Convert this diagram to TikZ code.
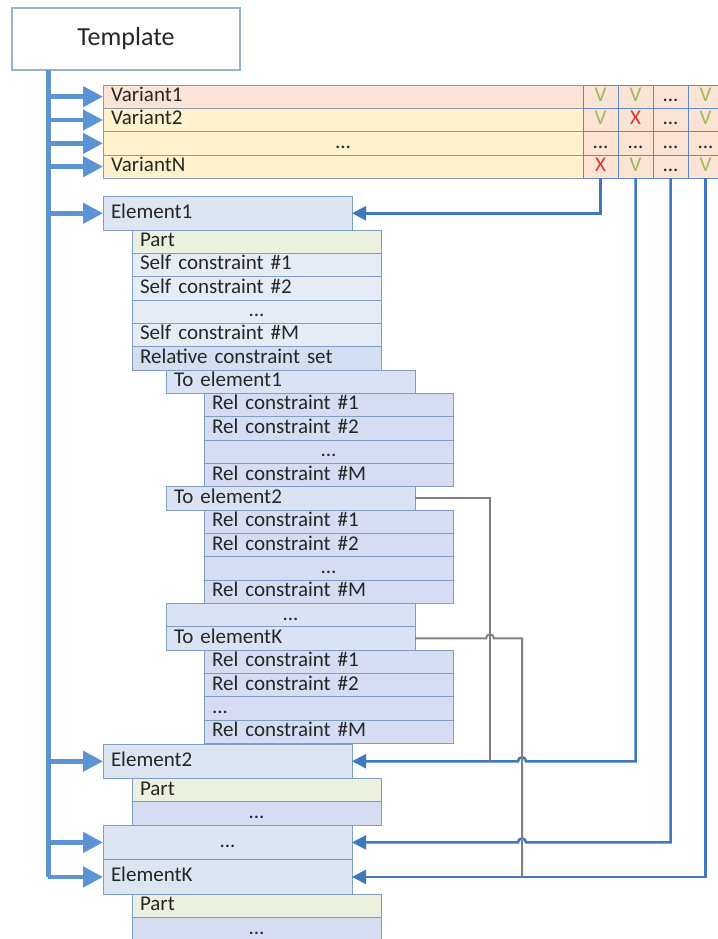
\documentclass[tikz,border=0pt]{standalone}
\usepackage{fontspec}
\setmainfont{Carlito}
\usetikzlibrary{arrows.meta}
\definecolor{txt}{HTML}{262626}
\definecolor{tmplline}{HTML}{95B3D7}
\definecolor{elfill}{HTML}{DCE6F2}
\definecolor{elline}{HTML}{809DC4}
\definecolor{partfill}{HTML}{EBF1DE}
\definecolor{selffill}{HTML}{E6ECF6}
\definecolor{relsetfill}{HTML}{D3DEF0}
\definecolor{tofill}{HTML}{DAE3F3}
\definecolor{relfill}{HTML}{D6DCF1}
\definecolor{varpink}{HTML}{FBE4D6}
\definecolor{varyel}{HTML}{FFF2CC}
\definecolor{cellline}{HTML}{5F8AC4}
\definecolor{varline}{HTML}{8A9BB0}
\definecolor{vgreen}{HTML}{9BBB59}
\definecolor{xred}{HTML}{E0342C}
\definecolor{fatblue}{HTML}{5B93D3}
\definecolor{linkblue}{HTML}{3F78BD}
\definecolor{greyline}{HTML}{7F7F7F}
\begin{document}
\begin{tikzpicture}[x=1pt,y=-1pt,
  every node/.style={font=\fontsize{21}{24}\selectfont, text=txt},
  rowbox/.style={draw=elline, line width=0.9pt, anchor=north west, outer sep=0pt,
    minimum width=249pt, text width=233pt, minimum height=23.33pt,
    inner xsep=8pt, inner ysep=0pt, align=left, text height=14pt, text depth=4pt},
  elbox/.style={rowbox, fill=elfill, minimum height=34.5pt},
  varrow/.style={rowbox, draw=varline, minimum width=480pt, text width=464pt},
  cell/.style={draw=cellline, line width=0.9pt, fill=varpink, anchor=north west, outer sep=0pt,
    minimum width=35pt, minimum height=23.33pt, inner sep=0pt, text height=14pt, text depth=4pt},
  fat/.style={draw=fatblue, line width=4.5pt, -{Triangle[length=20pt,width=20pt]}},
  link/.style={draw=linkblue, line width=2.5pt, -{Triangle[length=14pt,width=14pt]}},
  gline/.style={draw=greyline, line width=2pt},
  okmark/.style={text=vgreen},
  nomark/.style={text=xred}]
\useasboundingbox (0,0) rectangle (717,939);

% Template
\node[draw=tmplline, line width=1.2pt, fill=white, anchor=north west, outer sep=0pt,
  minimum width=228pt, minimum height=62pt, inner sep=0pt,
  font=\fontsize{26}{30}\selectfont] (tmpl) at (12,8) {Template};

% Variants
\node[varrow, fill=varpink] (v1) at (103,85) {Variant1};
\node[varrow, fill=varyel] (v2) at (103,108.33) {Variant2};
\node[varrow, fill=varyel, align=center] (v3) at (103,131.67) {...};
\node[varrow, fill=varyel] (v4) at (103,155) {VariantN};

\node[cell, okmark] (c11) at (583,85) {V};
\node[cell, okmark] (c12) at (618,85) {V};
\node[cell] (c13) at (653,85) {...};
\node[cell, okmark] (c14) at (688,85) {V};
\node[cell, okmark] (c21) at (583,108.33) {V};
\node[cell, nomark] (c22) at (618,108.33) {X};
\node[cell] (c23) at (653,108.33) {...};
\node[cell, okmark] (c24) at (688,108.33) {V};
\node[cell] (c31) at (583,131.67) {...};
\node[cell] (c32) at (618,131.67) {...};
\node[cell] (c33) at (653,131.67) {...};
\node[cell] (c34) at (688,131.67) {...};
\node[cell, nomark] (c41) at (583,155) {X};
\node[cell, okmark] (c42) at (618,155) {V};
\node[cell] (c43) at (653,155) {...};
\node[cell, okmark] (c44) at (688,155) {V};

% Element1
\node[elbox] (el1) at (103,196) {Element1};
\node[rowbox, fill=partfill] (p1) at (132,230) {Part};
\node[rowbox, fill=selffill] (s1) at (132,253.33) {Self constraint \#1};
\node[rowbox, fill=selffill] (s2) at (132,276.67) {Self constraint \#2};
\node[rowbox, fill=selffill, align=center] (sd) at (132,300) {...};
\node[rowbox, fill=selffill] (sm) at (132,323.33) {Self constraint \#M};
\node[rowbox, fill=relsetfill] (rs) at (132,346.67) {Relative constraint set};

\node[rowbox, fill=tofill] (te1) at (166,370) {To element1};
\node[rowbox, fill=relfill] (a1) at (204,393.33) {Rel constraint \#1};
\node[rowbox, fill=relfill] (a2) at (204,416.67) {Rel constraint \#2};
\node[rowbox, fill=relfill, align=center] (ad) at (204,440) {...};
\node[rowbox, fill=relfill] (am) at (204,463.33) {Rel constraint \#M};

\node[rowbox, fill=tofill] (te2) at (166,486.67) {To element2};
\node[rowbox, fill=relfill] (b1) at (204,510) {Rel constraint \#1};
\node[rowbox, fill=relfill] (b2) at (204,533.33) {Rel constraint \#2};
\node[rowbox, fill=relfill, align=center] (bd) at (204,556.67) {...};
\node[rowbox, fill=relfill] (bm) at (204,580) {Rel constraint \#M};

\node[rowbox, fill=tofill, align=center] (ted) at (166,603.33) {...};
\node[rowbox, fill=tofill] (teK) at (166,626.67) {To elementK};
\node[rowbox, fill=relfill] (k1) at (204,650) {Rel constraint \#1};
\node[rowbox, fill=relfill] (k2) at (204,673.33) {Rel constraint \#2};
\node[rowbox, fill=relfill] (kd) at (204,696.67) {...};
\node[rowbox, fill=relfill] (km) at (204,720) {Rel constraint \#M};

% Element2
\node[elbox] (el2) at (103,744) {Element2};
\node[rowbox, fill=partfill] (p2) at (132,778.5) {Part};
\node[rowbox, fill=relfill, align=center] (p2d) at (132,801.83) {...};

% Element ...
\node[elbox, align=center] (eld) at (103,825.17) {...};

% ElementK
\node[elbox] (elK) at (103,859.67) {ElementK};
\node[rowbox, fill=partfill] (pK) at (132,894.17) {Part};
\node[rowbox, fill=relfill, align=center] (pKd) at (132,917.5) {...};

% Trunk and arrows
\coordinate (tt) at ([xshift=36pt]tmpl.south west);
\draw[draw=fatblue, line width=5pt] (tt) -- (tt |- elK.west);
\foreach \n in {v1,v2,v3,v4,el1,el2,eld,elK}
  \draw[fat] (tt |- \n.west) -- (\n.west);

% Variant column connectors
\coordinate (g1) at (490,0);
\coordinate (g2) at (522,0);
\draw[link] (c41.south) |- (el1.east);
\draw[link] (c42.south) |- ([xshift=4pt]g2 |- el2.east)
  arc[start angle=0, end angle=180, radius=4pt] -- (el2.east);
\draw[link] (c43.south) |- ([xshift=4pt]g2 |- eld.east)
  arc[start angle=0, end angle=180, radius=4pt] -- (eld.east);
\draw[link] (c44.south) |- (elK.east);

% Relative links
\draw[gline] (te2.east) -| (g1 |- el2.east);
\draw[gline] (teK.east) -- ([xshift=-4pt]g1 |- teK.east)
  arc[start angle=180, end angle=0, radius=4pt] -| (g2 |- elK.east);
\end{tikzpicture}
\end{document}
